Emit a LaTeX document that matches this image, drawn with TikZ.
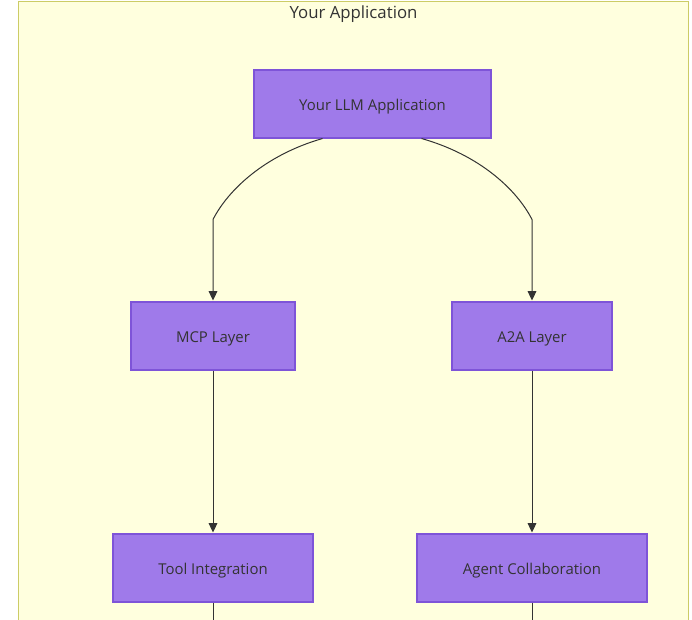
\documentclass[tikz,border=0pt]{standalone}
\usepackage{fontspec}
\setmainfont{Open Sans}
\usepackage{tikz}
\usetikzlibrary{arrows.meta}
\usetikzlibrary{calc}
\usetikzlibrary{positioning}

\definecolor{clusterfill}{HTML}{FFFFDE}
\definecolor{clusterline}{HTML}{CCCC66}
\definecolor{boxfill}{HTML}{9F7AEA}
\definecolor{boxline}{HTML}{7E54D8}
\definecolor{inktext}{HTML}{333333}

\tikzset{
  layer/.style={rectangle, draw=boxline, line width=1.5pt, fill=boxfill,
    minimum height=51pt, text=inktext, text height=2.1ex, text depth=0.2ex,
    font=\fontsize{11.2}{13}\selectfont},
  flow/.style={draw=inktext, line width=0.75pt, -{Triangle[length=7pt,width=6.5pt]}},
  tail/.style={draw=inktext, line width=0.75pt}
}

\begin{document}
\begin{tikzpicture}[x=0.75pt, y=-0.75pt]
        \useasboundingbox (0,0) rectangle (692,619);
        \clip (0,0) rectangle (692,619);
        \draw[fill=clusterfill, draw=clusterline, line width=0.75pt] (18,1) rectangle (688,640);
        \node[text=inktext, font=\fontsize{12.6}{14}\selectfont] (title) at (353.5,14) {Your Application};

        \node[layer, minimum width=177.75pt] (llm) at (372.5,103.5) {Your LLM Application};
        \node[layer, minimum width=123pt] (mcp) at (213,335.5) {MCP Layer};
        \node[layer, minimum width=120pt] (a2a) at (532,335.5) {A2A Layer};
        \node[layer, minimum width=150pt, below=121.5pt of mcp] (tool) {Tool Integration};
        \node[layer, minimum width=172.5pt, below=121.5pt of a2a] (agent) {Agent Collaboration};

        % bends above the two layers
        \coordinate (mcpbend) at ($(mcp.north)+(0,-81)$);
        \coordinate (a2abend) at ($(a2a.north)+(0,-81)$);
        \coordinate (toolout) at ($(tool.south)+(0,40)$);
        \coordinate (agentout) at ($(agent.south)+(0,40)$);

        \draw[flow] ($(llm.south west)!0.291!(llm.south east)$)
            .. controls (265,155) and (228,190) .. (mcpbend) -- (mcp.north);
        \draw[flow] ($(llm.south west)!0.705!(llm.south east)$)
            .. controls (480,155) and (517,190) .. (a2abend) -- (a2a.north);
        \draw[flow] (mcp) -- (tool);
        \draw[flow] (a2a) -- (agent);
        \draw[tail] (tool) -- (toolout);
        \draw[tail] (agent) -- (agentout);
    \end{tikzpicture}
\end{document}
